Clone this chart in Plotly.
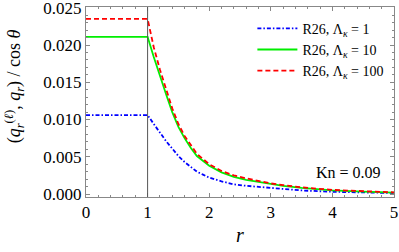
import plotly.graph_objects as go

r = [0.0, 1.0, 1.1, 1.2, 1.3, 1.4, 1.5, 1.6, 1.7, 1.8, 1.9, 2.0, 2.2, 2.4, 2.6,
     3.0, 3.2, 3.5, 4.0, 4.5, 5.0]
q_lam1 = [0.0106, 0.0106, 0.0094, 0.0082, 0.0071, 0.0061, 0.0051, 0.0043, 0.0036,
          0.0030, 0.0026, 0.0022, 0.0017, 0.0013, 0.0011, 0.0008, 0.00065, 0.00048,
          0.00030, 0.00020, 0.00013]
q_lam10 = [0.0211, 0.0211, 0.0184, 0.0158, 0.0134, 0.0110, 0.0090, 0.0075, 0.0062,
           0.0051, 0.0044, 0.0038, 0.0029, 0.0023, 0.0019, 0.0013, 0.0011, 0.00083,
           0.00050, 0.00032, 0.00020]
q_lam100 = [0.0235, 0.0235, 0.0197, 0.0167, 0.0141, 0.0115, 0.0094, 0.0078, 0.0066,
            0.0054, 0.0047, 0.0040, 0.0031, 0.0025, 0.0021, 0.00142, 0.0012, 0.0009,
            0.00055, 0.00035, 0.00022]
names = ["R26, Λ<sub><i>κ</i></sub> = 1", "R26, Λ<sub><i>κ</i></sub> = 10",
         "R26, Λ<sub><i>κ</i></sub> = 100"]
x_ticks = [0, 1, 2, 3, 4, 5]
y_ticks = [0.000, 0.005, 0.010, 0.015, 0.020, 0.025]
y_tick_labels = ["0.000", "0.005", "0.010", "0.015", "0.020", "0.025"]

FONT = "Liberation Serif"

fig = go.Figure()
fig.add_trace(go.Scatter(x=r, y=q_lam1, mode="lines", name=names[0],
                         line=dict(color="#0000ff", width=1.8, dash="4px,2px,1.5px,2px")))
fig.add_trace(go.Scatter(x=r, y=q_lam10, mode="lines", name=names[1],
                         line=dict(color="#00ee00", width=1.8)))
fig.add_trace(go.Scatter(x=r, y=q_lam100, mode="lines", name=names[2],
                         line=dict(color="#ff0000", width=1.8, dash="5px,3px")))

fig.add_shape(type="line", xref="x", yref="paper", x0=1, x1=1, y0=0, y1=1,
              line=dict(color="#555555", width=1))

fig.add_annotation(text="Kn = 0.09", xref="paper", yref="paper", x=0.965, y=0.13,
                   xanchor="right", yanchor="middle", showarrow=False,
                   font=dict(family=FONT, size=16, color="black"))
fig.add_annotation(text="(<i>q</i><sub><i>r</i></sub><sup>(<i>ℓ</i>)</sup>, <i>q</i><sub><i>r</i></sub>) / cos <i>θ</i>",
                   xref="paper", yref="paper", x=-0.232, y=0.58, textangle=-90,
                   xanchor="center", yanchor="middle", showarrow=False,
                   font=dict(family=FONT, size=18, color="black"))

axis_common = dict(showline=True, linecolor="#888888", linewidth=1, mirror="ticks",
                   ticks="inside", ticklen=4, tickcolor="#888888", showgrid=False,
                   zeroline=False, ticklabeloverflow="allow",
                   tickfont=dict(family=FONT, size=17, color="black"))

fig.update_xaxes(range=[0, 5], tickvals=x_ticks, ticktext=[str(v) for v in x_ticks],
                 minor=dict(dtick=0.2, ticks="inside", ticklen=2, tickcolor="#888888"),
                 title=dict(text="<i>r</i>", font=dict(family=FONT, size=20, color="black"),
                            standoff=6),
                 **axis_common)
fig.update_yaxes(range=[-0.0004, 0.0251], tickvals=y_ticks, ticktext=y_tick_labels,
                 minor=dict(dtick=0.001, ticks="inside", ticklen=2, tickcolor="#888888"),
                 **axis_common)

fig.update_layout(width=399, height=252, margin=dict(l=86, r=5, t=7, b=55),
                  template="none",
                  plot_bgcolor="white", paper_bgcolor="white",
                  legend=dict(x=0.985, y=0.97, xanchor="right", yanchor="top",
                              bgcolor="rgba(0,0,0,0)", font=dict(family=FONT, size=14, color="black"),
                              itemwidth=40),
                  font=dict(family=FONT, color="black"))

fig.write_html("out.html", config={"displayModeBar": False},
               post_script="document.body.style.margin='0';document.body.style.overflow='hidden';")
